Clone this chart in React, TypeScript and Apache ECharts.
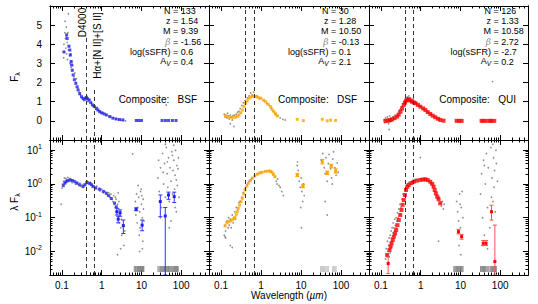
import React, { useEffect, useRef } from 'react';
import * as echarts from 'echarts';

const FONT = '"Liberation Sans", Arial, Helvetica, sans-serif';

// ---- axis ticks / labels ----
const X_TICKS = [0.1, 1, 10, 100];
const X_TICK_LABELS = ['0.1', '1', '10', '100'];
const TOP_Y_TICKS = [0, 1, 2, 3, 4, 5];
const BOT_Y_TICKS = [0.01, 0.1, 1, 10];
const BOT_Y_EXP = ['-2', '-1', '0', '1'];

// ---- panel annotations ----
const PANELS = ['BSF', 'DSF', 'QUI'];
const N_GAL = ['133', '30', '126'];
const Z_MED = ['1.54', '1.28', '1.33'];
const MASS = ['9.39', '10.50', '10.58'];
const BETA = ['-1.56', '-0.13', '2.72'];
const SSFR = ['0.6', '0.1', '-2.7'];
const AV = ['0.4', '2.1', '0.2'];
const LINES_UM = [0.4, 0.656];
const COLORS = ['#2020f0', '#ffa500', '#ff0000'];
const ERR_COLORS = ['#3030ff', '#ffa500', '#ff5050'];

// ---- composite SEDs, F_lambda (top row) ----
const bsfTop = [[0.112,3.6],[0.131,4.49],[0.135,4.3],[0.15,3.9],[0.158,3.7],[0.163,3.44],[0.17,3.1],[0.174,2.92],[0.182,2.65],[0.191,2.4],[0.205,2.15],[0.223,1.96],[0.24,1.78],[0.255,1.61],[0.28,1.42],[0.31,1.26],[0.34,1.17],[0.375,1.13],[0.413,1.21],[0.44,1.15],[0.48,1.09],[0.53,0.95],[0.584,0.83],[0.65,0.75],[0.735,0.66],[0.8,0.57],[0.89,0.48],[1.0,0.42],[1.15,0.36],[1.31,0.31],[1.6,0.22],[1.91,0.14],[2.3,0.1],[2.8,0.07],[3.4,0.05],[7.4,0.02],[8.5,0.02],[10,0.02],[33,0.02],[40,0.02],[48,0.02],[60,0.02],[74,0.02]];
const dsfTop = [[0.13,0.26],[0.15,0.22],[0.175,0.19],[0.2,0.18],[0.233,0.19],[0.26,0.24],[0.28,0.31],[0.31,0.42],[0.34,0.57],[0.375,0.75],[0.413,0.92],[0.45,1.05],[0.5,1.18],[0.55,1.25],[0.605,1.3],[0.66,1.28],[0.735,1.27],[0.85,1.22],[0.98,1.18],[1.15,1.08],[1.31,1.0],[1.5,0.87],[1.74,0.74],[1.9,0.6],[2.11,0.48],[2.3,0.37],[2.55,0.26],[8.05,0.08],[11.4,0.01],[34,0.08],[45,0.0],[55,0.04],[73,0.02]];
const quiTop = [[0.13,0.0],[0.15,0.01],[0.17,0.04],[0.19,0.08],[0.22,0.14],[0.255,0.22],[0.28,0.33],[0.31,0.48],[0.34,0.65],[0.375,0.83],[0.4,0.96],[0.428,1.06],[0.46,1.1],[0.5,1.13],[0.55,1.06],[0.605,1.0],[0.67,0.96],[0.735,0.92],[0.85,0.83],[0.98,0.74],[1.15,0.65],[1.31,0.57],[1.5,0.46],[1.74,0.36],[2.0,0.27],[2.32,0.19],[2.7,0.11],[3.1,0.05],[3.75,0.01],[8,0.0],[9.2,0.0],[10.7,0.0],[34,0.0],[38,0.0],[45,0.0],[55,0.0],[60,0.0],[71,0.0]];

// ---- composite SEDs, lambda F_lambda (bottom row) ----
const bsfBot = [[0.108,0.885],[0.118,1.05],[0.126,1.16],[0.14,1.25],[0.158,1.31],[0.18,1.25],[0.211,1.16],[0.24,1.05],[0.281,0.93],[0.34,0.83],[0.38,0.95],[0.428,1.09],[0.5,1.04],[0.55,0.95],[0.605,0.83],[0.7,0.76],[0.89,0.69],[1.1,0.6],[1.31,0.53],[1.5,0.45],[1.74,0.37],[2.1,0.27],[2.33,0.21]];
const dsfBot = [[0.126,0.0566],[0.14,0.07],[0.152,0.076],[0.17,0.08],[0.191,0.085],[0.21,0.095],[0.223,0.102],[0.24,0.125],[0.255,0.15],[0.27,0.19],[0.29,0.237],[0.315,0.3],[0.34,0.374],[0.37,0.5],[0.397,0.66],[0.44,0.85],[0.48,1.04],[0.54,1.25],[0.605,1.47],[0.7,1.7],[0.805,1.93],[0.93,2.1],[1.07,2.21],[1.3,2.35],[1.58,2.41],[1.75,2.35],[1.91,2.15],[2.05,1.9],[2.23,1.64]];
const quiBot = [[0.1435,0.0078],[0.164,0.011],[0.175,0.014],[0.1845,0.0174],[0.198,0.022],[0.211,0.0273],[0.226,0.034],[0.241,0.043],[0.26,0.06],[0.281,0.085],[0.305,0.12],[0.328,0.169],[0.35,0.24],[0.375,0.333],[0.4,0.47],[0.428,0.66],[0.46,0.82],[0.5,0.93],[0.58,1.06],[0.667,1.16],[0.8,1.25],[0.98,1.31],[1.15,1.35],[1.31,1.37],[1.5,1.3],[1.74,1.16],[1.95,1.0],[2.11,0.83],[2.25,0.66],[2.41,0.525],[2.6,0.42],[2.81,0.35],[3.1,0.266]];

// ---- points with error bars: [lambda, value, low, high] ----
const bsfErr = [[2.4,0.15,0.12,0.19],[2.9,0.14,0.11,0.17],[2.6,0.09,0.07,0.11],[3.5,0.058,0.034,0.085],[7.35,0.177,0.16,0.195],[10.4,0.06,0.041,0.085],[29.8,0.3,0.107,0.47],[39.7,0.112,0.002,0.2],[47.9,0.47,0.35,0.57],[66.7,0.42,0.28,0.57]];
const dsfErr = [[8.05,1.84,1.65,2.05],[11.2,0.87,0.77,0.98],[34,4.56,3.9,5.3],[45.3,2.15,1.9,2.4],[57,3.4,3.0,3.8],[73.4,2.41,2.1,2.8]];
const quiErr = [[0.152,0.0044,0.0022,0.0068],[8.9,0.0385,0.033,0.045],[10.7,0.0273,0.023,0.032],[37.5,0.0174,0.015,0.021],[44,0.0174,0.015,0.021],[60.4,0.15,0.085,0.234],[73.4,0.005,0.002,0.06]];

// ---- individual galaxies (gray) ----
const grayTopBSF = [[0.11,3.3],[0.112,4.0],[0.115,3.6],[0.118,4.6],[0.12,5.2],[0.122,4.3],[0.125,3.8],[0.128,4.9],[0.13,4.4],[0.132,3.5],[0.135,4.1],[0.138,3.2],[0.14,4.6],[0.145,3.7],[0.145,5.6],[0.15,3.9],[0.155,3.4],[0.16,3.0],[0.165,3.5],[0.17,2.8],[0.175,3.1],[0.18,2.6],[0.19,2.9],[0.2,2.3],[0.21,2.5],[0.22,2.0],[0.23,2.2],[0.25,1.7],[0.27,1.5],[0.29,1.35],[0.32,1.2],[0.35,1.05],[0.38,1.25],[0.42,1.3],[0.45,1.0],[0.5,1.1],[0.55,0.95],[0.6,0.8],[0.65,0.75],[0.7,0.6],[0.8,0.55],[0.9,0.5],[1.0,0.4],[1.1,0.42],[1.3,0.3],[1.5,0.25],[1.7,0.2],[2.0,0.15],[2.3,0.1],[2.6,0.06],[3.0,0.03],[3.5,0.02],[4.0,0.0],[42,0.83]];
const grayTopDSF = [[0.12,0.35],[0.125,0.2],[0.13,0.3],[0.14,0.15],[0.145,0.4],[0.15,0.25],[0.16,0.1],[0.17,0.3],[0.17,-0.15],[0.18,0.2],[0.19,0.05],[0.2,0.28],[0.21,-0.3],[0.22,0.3],[0.24,0.35],[0.26,0.45],[0.28,0.5],[0.3,0.65],[0.33,0.8],[0.36,0.95],[0.4,1.05],[0.45,1.2],[0.5,1.3],[0.55,1.45],[0.6,1.35],[0.65,1.5],[0.7,1.25],[0.8,1.3],[0.9,1.15],[1.0,1.2],[1.2,1.05],[1.4,0.9],[1.6,0.8],[1.8,0.65],[2.0,0.5],[2.3,0.35],[2.6,0.25],[3.0,0.15],[3.5,0.08],[4.0,0.04]];
const grayTopQUI = [[0.12,0.05],[0.125,-0.1],[0.13,0.15],[0.135,0.0],[0.14,-0.05],[0.145,0.2],[0.15,0.1],[0.155,-0.15],[0.16,0.05],[0.16,-0.45],[0.165,0.25],[0.17,-0.05],[0.18,0.12],[0.19,0.0],[0.2,0.2],[0.21,0.1],[0.22,0.3],[0.24,0.25],[0.26,0.35],[0.28,0.5],[0.3,0.6],[0.33,0.75],[0.36,0.9],[0.4,1.0],[0.43,1.2],[0.46,1.25],[0.5,1.3],[0.55,1.2],[0.6,1.1],[0.65,1.15],[0.7,1.0],[0.8,0.95],[0.9,0.8],[1.0,0.75],[1.2,0.62],[1.5,0.45],[1.8,0.35],[2.2,0.22],[2.6,0.12],[3.0,0.06],[64,2.05]];
const grayBotBSF = [[0.095,0.25],[0.1,0.75],[0.105,1.0],[0.11,1.2],[0.115,1.5],[0.12,1.1],[0.125,1.45],[0.13,1.3],[0.14,1.55],[0.15,1.2],[0.16,1.45],[0.17,1.35],[0.18,1.1],[0.19,1.3],[0.2,1.25],[0.22,1.0],[0.24,1.1],[0.26,0.95],[0.28,1.05],[0.3,0.85],[0.33,0.95],[0.36,0.9],[0.4,1.15],[0.44,1.2],[0.48,1.0],[0.52,1.1],[0.56,0.95],[0.6,0.9],[0.65,0.85],[0.7,0.75],[0.75,0.85],[0.8,0.7],[0.85,0.75],[0.9,0.62],[1.0,0.7],[1.1,0.55],[1.2,0.6],[1.3,0.5],[1.4,0.45],[1.5,0.55],[1.6,0.4],[1.7,0.5],[1.8,0.35],[1.9,0.3],[2.0,0.45],[2.1,0.25],[2.2,0.2],[2.2,0.4],[2.3,0.35],[2.4,0.15],[2.5,0.25],[2.5,0.008],[2.6,0.1],[2.6,0.55],[2.7,0.18],[2.7,0.3],[2.8,0.07],[2.9,0.12],[3.0,0.05],[3.0,0.012],[3.1,0.09],[3.2,0.03],[3.4,0.06],[3.6,0.015],[3.8,0.04],[6.0,7.7],[7.0,0.3],[7.2,0.12],[7.5,0.5],[7.8,0.07],[8.0,0.2],[8.2,0.9],[8.5,0.4],[8.8,0.03],[9.0,0.15],[9.0,0.01],[9.2,0.05],[9.5,0.6],[9.8,0.7],[10,0.25],[10.2,0.45],[10.5,0.1],[10.5,0.012],[10.8,0.02],[11,0.35],[11.2,0.18],[11.5,0.08],[26,1.5],[27,5],[28,0.6],[30,3],[30,0.1],[32,0.2],[34,8],[35,2.2],[36,1.0],[38,4],[40,0.4],[40,15],[42,12],[44,2],[45,4.5],[46,0.8],[48,6],[50,0.3],[50,0.05],[52,3],[55,1.2],[55,0.08],[58,9],[60,0.5],[60,7],[62,2.5],[65,5],[65,14],[68,0.7],[70,1.8],[70,0.2],[72,10],[75,0.15],[75,1.3],[78,3.5],[80,0.9],[83,2.8],[85,6],[88,0.4]];
const grayBotDSF = [[0.12,0.03],[0.125,0.06],[0.126,0.027],[0.13,0.04],[0.13,0.025],[0.14,0.08],[0.15,0.05],[0.155,0.1],[0.16,0.06],[0.17,0.09],[0.17,0.015],[0.18,0.05],[0.19,0.12],[0.19,0.013],[0.2,0.07],[0.21,0.1],[0.22,0.15],[0.23,0.09],[0.24,0.2],[0.26,0.17],[0.28,0.28],[0.3,0.3],[0.33,0.4],[0.36,0.55],[0.4,0.75],[0.45,0.95],[0.5,1.2],[0.55,1.35],[0.6,1.5],[0.7,1.75],[0.8,2.0],[0.9,2.1],[1.0,2.25],[1.2,2.35],[1.4,2.4],[1.6,2.4],[1.8,2.3],[2.0,2.0],[2.2,1.6],[2.4,1.2],[2.5,1.0],[2.6,1.4],[2.8,0.9],[3.0,0.8],[3.3,0.6],[3.6,0.45],[8,3.5],[8.2,4.5],[8.5,2.5],[9,1.2],[9.5,0.8],[9.8,0.2],[10,1.5],[10.2,0.05],[10.5,0.6],[11,0.3],[11.5,1.0],[12,0.45],[32,5],[35,8],[38,3],[40,2],[40,0.3],[42,6],[45,1.2],[45,0.12],[48,4],[50,7.5],[55,2.8],[58,1.5],[60,1.0],[62,5.5],[65,9],[70,3],[75,1.8],[80,4.2],[85,2.2]];
const grayBotQUI = [[0.13,0.006],[0.135,0.012],[0.14,0.008],[0.145,0.02],[0.15,0.01],[0.15,0.004],[0.155,0.015],[0.16,0.025],[0.16,0.007],[0.165,0.012],[0.17,0.03],[0.17,0.009],[0.175,0.018],[0.18,0.04],[0.18,0.013],[0.185,0.025],[0.19,0.05],[0.19,0.02],[0.2,0.035],[0.2,0.07],[0.21,0.03],[0.21,0.05],[0.22,0.09],[0.22,0.04],[0.23,0.06],[0.24,0.1],[0.24,0.05],[0.25,0.08],[0.26,0.14],[0.27,0.1],[0.28,0.18],[0.3,0.12],[0.3,0.25],[0.32,0.2],[0.34,0.35],[0.36,0.5],[0.4,0.7],[0.45,0.95],[0.5,1.1],[0.6,1.2],[0.7,1.3],[0.8,1.35],[0.98,6.1],[1.0,1.4],[1.2,1.35],[1.5,1.25],[1.8,1.0],[2.0,0.8],[2.3,0.6],[2.5,0.45],[2.7,0.35],[2.8,0.02],[2.9,0.4],[3.1,0.28],[3.3,0.22],[3.5,0.3],[3.7,0.18],[3.9,0.25],[8,0.3],[8.5,0.15],[8.8,0.04],[9,0.08],[9.2,0.015],[9.5,0.5],[9.8,0.25],[10,0.05],[10.2,0.008],[10.5,0.2],[11,0.03],[11,0.6],[11.5,0.1],[32,0.5],[34,2],[35,0.015],[36,0.1],[38,5],[40,0.03],[40,3.5],[42,1.0],[45,8],[48,0.2],[48,0.012],[50,3],[55,0.05],[58,12],[60,0.4],[62,1.5],[65,15],[66,0.3],[68,6],[70,0.8],[72,2.5],[75,0.15],[78,10],[80,4],[85,1.2]];

// ---- non-detection rugs (lambda) ----
const rugBSF = [6.6,7.0,7.3,7.7,8.0,8.4,8.8,9.1,9.5,9.9,10.3,10.7,11.1,11.5,26,28,30,32,34,36,38,40,42,44,46,48,50,53,56,59,62,65,68,71,74,77,80,84];
const rugDSF = [31,33,35,37,39,42,45,48,62,66,70,75];
const rugQUI = [6.8,7.2,7.6,8.0,8.4,8.8,9.2,9.6,10,10.5,11,11.6,32,34,36,38,40,42,44,47,50,55,58,61,64,67,70,73,76,80];

const TOP_SETS = [bsfTop, dsfTop, quiTop];
const BOT_SETS = [bsfBot, dsfBot, quiBot];
const ERR_SETS = [bsfErr, dsfErr, quiErr];
const GRAY_TOP = [grayTopBSF, grayTopDSF, grayTopQUI];
const GRAY_BOT = [grayBotBSF, grayBotDSF, grayBotQUI];
const RUGS = [rugBSF, rugDSF, rugQUI];
const RUG_COLORS = ['#707070', '#b0b0b0', '#707070'];

function minorTicks(lo: number, hi: number) {
  const out: number[] = [];
  for (let e = -3; e <= 3; e++) {
    for (let k = 2; k <= 9; k++) {
      const v = k * Math.pow(10, e);
      if (v > lo * 1.0001 && v < hi * 0.9999) out.push(v);
    }
  }
  return out;
}

function idxOf(arr: number[], v: number) {
  let best = 0, bd = Infinity;
  arr.forEach((a, i) => {
    const d = Math.abs(Math.log10(Math.abs(a) || 1e-9) - Math.log10(Math.abs(v) || 1e-9)) + Math.abs(a - v) * 1e-6;
    if (d < bd) { bd = d; best = i; }
  });
  return best;
}

function buildOption() {
  const grids: any[] = [];
  const xAxes: any[] = [];
  const yAxes: any[] = [];
  const series: any[] = [];
  const graphic: any[] = [];
  const LEFTS = [50, 209, 369];
  const WIDTHS = [159, 160, 159];
  const xMinor = minorTicks(0.05, 500);
  const yMinor = minorTicks(0.002, 20);

  for (let p = 0; p < 6; p++) {
    const row = p < 3 ? 0 : 1;
    const col = p % 3;
    grids.push({ left: LEFTS[col], width: WIDTHS[col], top: row ? 140 : 6, height: row ? 135 : 134 });

    const mkX = (position: string, vals: number[], len: number, labels: boolean) => ({
      type: 'log', logBase: 10, min: 0.05, max: 500, gridIndex: p, position,
      axisLine: { show: true, onZero: false, lineStyle: { color: '#000', width: 1 } },
      axisTick: { show: true, inside: true, length: len, customValues: vals, lineStyle: { color: '#000', width: 1 } },
      axisLabel: labels ? {
        show: true, customValues: X_TICKS, color: '#000', fontSize: 10, fontFamily: FONT, margin: 5,
        formatter: (v: number) => X_TICK_LABELS[idxOf(X_TICKS, v)],
      } : { show: false },
      splitLine: { show: false },
      silent: true,
    });
    xAxes.push(mkX('bottom', X_TICKS, 5, row === 1), mkX('bottom', xMinor, 2.5, false), mkX('top', X_TICKS, 5, false), mkX('top', xMinor, 2.5, false));

    const mkY = (position: string, major: boolean, labels: boolean) => {
      const base: any = row === 0
        ? { type: 'value', min: -1, max: 6 }
        : { type: 'log', logBase: 10, min: 0.002, max: 20 };
      const vals = row === 0 ? (major ? TOP_Y_TICKS : []) : (major ? BOT_Y_TICKS : yMinor);
      return {
        ...base, gridIndex: p, position,
        axisLine: { show: true, onZero: false, lineStyle: { color: '#000', width: 1 } },
        axisTick: { show: vals.length > 0, inside: true, length: major ? 5 : 2.5, customValues: vals.length ? vals : undefined, lineStyle: { color: '#000', width: 1 } },
        axisLabel: labels ? {
          show: true, customValues: row === 0 ? TOP_Y_TICKS : BOT_Y_TICKS, color: '#000', fontSize: 10, fontFamily: FONT, margin: 8,
          formatter: row === 0 ? (v: number) => String(Math.round(v)) : (v: number) => `{b|10}{p|${BOT_Y_EXP[idxOf(BOT_Y_TICKS, v)]}}`,
          rich: {
            b: { fontSize: 10, fontFamily: FONT, color: '#000', lineHeight: 14 },
            p: { fontSize: 7, fontFamily: FONT, color: '#000', lineHeight: 7, verticalAlign: 'top' },
          },
        } : { show: false },
        splitLine: { show: false },
        silent: true,
      };
    };
    yAxes.push(mkY('left', true, col === 0), mkY('left', false, false), mkY('right', true, false), mkY('right', false, false));

    const ai = p * 4;
    const markData = p === 0
      ? [[{ coord: [LINES_UM[0], 4.33] }, { coord: [LINES_UM[0], -1] }], [{ coord: [LINES_UM[1], 1.61] }, { coord: [LINES_UM[1], -1] }]]
      : LINES_UM.map((l) => ({ xAxis: l }));

    series.push({
      type: 'scatter', xAxisIndex: ai, yAxisIndex: ai, silent: true, z: 1,
      data: row === 0 ? GRAY_TOP[col] : GRAY_BOT[col],
      symbolSize: 1.7, itemStyle: { color: '#7a7a7a', opacity: 0.85 },
      markLine: {
        silent: true, symbol: ['none', 'none'], label: { show: false },
        lineStyle: { type: [4, 3], color: '#333', width: 1 },
        data: markData,
      },
    });
    series.push({
      type: 'scatter', xAxisIndex: ai, yAxisIndex: ai, silent: true, z: 3,
      data: row === 0 ? TOP_SETS[col] : BOT_SETS[col],
      symbol: 'rect', symbolSize: col === 2 ? 4 : 3, itemStyle: { color: COLORS[col] },
    });
    if (row === 1) {
      series.push({
        type: 'scatter', xAxisIndex: ai, yAxisIndex: ai, silent: true, z: 2,
        data: RUGS[col].map((l) => [l, 0.003]),
        symbol: 'rect', symbolSize: [1, 6], itemStyle: { color: RUG_COLORS[col] },
      });
      const ec = ERR_COLORS[col];
      const pc = COLORS[col];
      series.push({
        type: 'custom', xAxisIndex: ai, yAxisIndex: ai, silent: true, z: 4, clip: true,
        data: ERR_SETS[col],
        encode: { x: 0, y: 1 },
        renderItem: (_params: any, api: any) => {
          const x = api.value(0), v = api.value(1), lo = api.value(2), hi = api.value(3);
          const a = api.coord([x, hi]);
          const b = api.coord([x, lo]);
          const c = api.coord([x, v]);
          const w = 2;
          return {
            type: 'group',
            children: [
              { type: 'line', shape: { x1: a[0], y1: a[1], x2: b[0], y2: b[1] }, style: { stroke: ec, lineWidth: 1 } },
              { type: 'line', shape: { x1: a[0] - w, y1: a[1], x2: a[0] + w, y2: a[1] }, style: { stroke: ec, lineWidth: 1 } },
              { type: 'line', shape: { x1: b[0] - w, y1: b[1], x2: b[0] + w, y2: b[1] }, style: { stroke: ec, lineWidth: 1 } },
              { type: 'rect', shape: { x: c[0] - 1.5, y: c[1] - 1.5, width: 3, height: 3 }, style: { fill: pc } },
            ],
          };
        },
      });
    }
  }

  // annotations
  const txt = (x: number, y: number, text: string, align: string, extra: any = {}) => ({
    type: 'text', x, y, silent: true, z: 10,
    style: { text, fill: '#000', fontSize: 10, fontFamily: FONT, align, verticalAlign: 'middle', textAlign: align, textVerticalAlign: 'middle', ...extra },
  });
  const EQ_LEFT = [173, 331, 493.5];
  const ROW_Y = [11.2, 21.3, 31.4, 41.5, 51.6, 61.7];
  const RIGHTS = [209, 369, 528];
  const small = { fontSize: 9, lineHeight: 9 };
  for (let c = 0; c < 3; c++) {
    const labs = ['N', 'z', 'M', 'β', 'log(sSFR)'];
    const vals = [N_GAL[c], Z_MED[c], MASS[c], BETA[c], SSFR[c], AV[c]];
    const lx = EQ_LEFT[c] - 2.5;
    labs.forEach((l, i) => {
      const extra = l === 'β'
        ? { ...small, fill: '#8a8a8a', fontStyle: 'italic', fontFamily: 'DejaVu Serif' }
        : small;
      graphic.push(txt(lx, ROW_Y[i], l, 'right', extra));
    });
    // A_V : letter plus italic subscript
    graphic.push(txt(lx - 4.3, ROW_Y[5] - 0.5, 'A', 'right', small));
    graphic.push(txt(lx, ROW_Y[5] + 2, 'V', 'right', { lineHeight: 6.5, fontSize: 6.5, fontStyle: 'italic' }));
    vals.forEach((v, i) => graphic.push(txt(EQ_LEFT[c], ROW_Y[i], '= ' + v, 'left', small)));
    graphic.push(txt(RIGHTS[c] - 12, 99.5, 'Composite:   ' + PANELS[c], 'right'));
  }
  graphic.push({ ...txt(82.5, 22.5, 'D4000', 'center'), rotation: Math.PI / 2 });
  graphic.push({ ...txt(97.5, 45.5, 'Hα+[N II]+[S II]', 'center'), rotation: Math.PI / 2 });
  const richTitle = {
    a: { fontSize: 10, fontFamily: FONT, fill: '#000', lineHeight: 14 },
    s: { fontSize: 7, fontFamily: FONT, fill: '#000', lineHeight: 8, verticalAlign: 'bottom' },
    i: { fontSize: 10, fontFamily: FONT, fontStyle: 'italic', fill: '#000', lineHeight: 14 },
  };
  graphic.push({ ...txt(14, 77, '{a|F}{s|λ}', 'center', { rich: richTitle }), rotation: Math.PI / 2 });
  graphic.push({ ...txt(14, 202, '{a|λ F}{s|λ}', 'center', { rich: richTitle }), rotation: Math.PI / 2 });
  graphic.push(txt(289, 295.5, '{a|Wavelength (}{i|µm}{a|)}', 'center', { rich: richTitle }));

  return {
    animation: false,
    backgroundColor: '#fff',
    grid: grids,
    xAxis: xAxes,
    yAxis: yAxes,
    series,
    graphic,
  };
}

export default function App() {
  const ref = useRef<HTMLDivElement>(null);
  useEffect(() => {
    if (!ref.current) return;
    const chart = echarts.init(ref.current, undefined, { renderer: 'svg' });
    chart.setOption(buildOption() as any);
    return () => chart.dispose();
  }, []);
  return <div ref={ref} style={{ position: 'absolute', left: 0, top: 0, width: 538, height: 304, background: '#fff' }} />;
}
